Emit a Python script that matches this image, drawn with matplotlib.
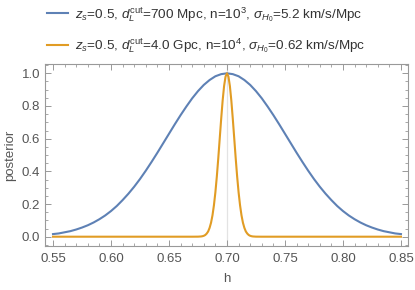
# -*- coding: utf-8 -*-
import numpy as np
import matplotlib.pyplot as plt
from matplotlib.ticker import MultipleLocator

# posterior curves
h_blue = [0.550, 0.555, 0.560, 0.565, 0.570, 0.575, 0.580, 0.585, 0.590, 0.595,
          0.600, 0.605, 0.610, 0.615, 0.620, 0.625, 0.630, 0.635, 0.640, 0.645,
          0.650, 0.655, 0.660, 0.665, 0.670, 0.675, 0.680, 0.685, 0.690, 0.695,
          0.700, 0.705, 0.710, 0.715, 0.720, 0.725, 0.730, 0.735, 0.740, 0.745,
          0.750, 0.755, 0.760, 0.765, 0.770, 0.775, 0.780, 0.785, 0.790, 0.795,
          0.800, 0.805, 0.810, 0.815, 0.820, 0.825, 0.830, 0.835, 0.840, 0.845, 0.850]
post_blue = [0.016, 0.020, 0.027, 0.034, 0.044, 0.056, 0.070, 0.087, 0.107, 0.130,
             0.157, 0.188, 0.224, 0.263, 0.306, 0.353, 0.404, 0.458, 0.514, 0.572,
             0.630, 0.688, 0.744, 0.797, 0.847, 0.891, 0.929, 0.959, 0.982, 0.995,
             1.000, 0.995, 0.982, 0.959, 0.929, 0.891, 0.847, 0.797, 0.744, 0.688,
             0.630, 0.572, 0.514, 0.458, 0.404, 0.353, 0.306, 0.263, 0.224, 0.188,
             0.157, 0.130, 0.107, 0.087, 0.070, 0.056, 0.044, 0.034, 0.027, 0.020, 0.016]

h_orange = [0.550, 0.670, 0.675, 0.6775, 0.67875, 0.680, 0.68125, 0.6825, 0.68375,
            0.685, 0.68625, 0.6875, 0.68875, 0.690, 0.69125, 0.6925, 0.69375,
            0.695, 0.69625, 0.6975, 0.69875, 0.700, 0.70125, 0.7025, 0.70375,
            0.705, 0.70625, 0.7075, 0.70875, 0.710, 0.71125, 0.7125, 0.71375,
            0.715, 0.71625, 0.7175, 0.71875, 0.720, 0.72125, 0.7225, 0.725, 0.730, 0.850]
post_orange = [0.0, 0.0, 0.0003, 0.0014, 0.0028, 0.0055, 0.0103, 0.019, 0.032,
               0.054, 0.0855, 0.131, 0.193, 0.272, 0.369, 0.481, 0.602,
               0.722, 0.833, 0.922, 0.980, 1.000, 0.980, 0.922, 0.833,
               0.722, 0.602, 0.481, 0.369, 0.272, 0.193, 0.131, 0.0855,
               0.054, 0.032, 0.019, 0.0103, 0.0055, 0.0028, 0.0014, 0.0003, 0.0, 0.0]

labels = [r"$z_s$=0.5, $d_L^{\rm cut}$=700 Mpc, n=10$^3$, $\sigma_{H_0}$=5.2 km/s/Mpc",
          r"$z_s$=0.5, $d_L^{\rm cut}$=4.0 Gpc, n=10$^4$, $\sigma_{H_0}$=0.62 km/s/Mpc"]

plt.rcParams['font.family'] = ['Liberation Sans', 'DejaVu Sans']
plt.rcParams['mathtext.fontset'] = 'custom'
plt.rcParams['mathtext.rm'] = 'Liberation Sans'
plt.rcParams['mathtext.it'] = 'Liberation Sans:italic'

gray = '#999999'
fig = plt.figure(figsize=(4.15, 2.9), dpi=100)
ax = fig.add_axes([0.1084, 0.1528, 0.983 - 0.1084, 0.7776 - 0.1528])

ax.axvline(0.70, color='#e3e3e3', lw=0.9, zorder=0)
l1, = ax.plot(h_blue, post_blue, color='#5e81b5', lw=1.5)
l2, = ax.plot(h_orange, post_orange, color='#e19c24', lw=1.5)

ax.set_xlim(0.5431, 0.856)
ax.set_ylim(-0.055, 1.054)
ax.xaxis.set_major_locator(MultipleLocator(0.05))
ax.xaxis.set_minor_locator(MultipleLocator(0.01))
ax.yaxis.set_major_locator(MultipleLocator(0.2))
ax.yaxis.set_minor_locator(MultipleLocator(0.05))
ax.xaxis.set_major_formatter(plt.FormatStrFormatter('%.2f'))
ax.yaxis.set_major_formatter(plt.FormatStrFormatter('%.1f'))
ax.tick_params(which='both', direction='in', top=True, right=True, color=gray,
               labelcolor='#555555', labelsize=9.5)
ax.tick_params(which='major', length=4, width=0.7)
ax.tick_params(axis='x', which='major', pad=5)
ax.tick_params(which='minor', length=2.2, width=0.6)
for s in ax.spines.values():
    s.set_color(gray)
    s.set_linewidth(0.8)

ax.set_xlabel("h", color='#555555', fontsize=9.5, labelpad=6)
ax.set_ylabel("posterior", color='#555555', fontsize=9.5)

fig.legend([l1, l2], labels, loc='upper left', bbox_to_anchor=(0.083, 1.025),
           frameon=False, fontsize=9.7, handlelength=1.6, handletextpad=0.5,
           labelspacing=0.95, labelcolor='#333333')

plt.savefig('out.png')
